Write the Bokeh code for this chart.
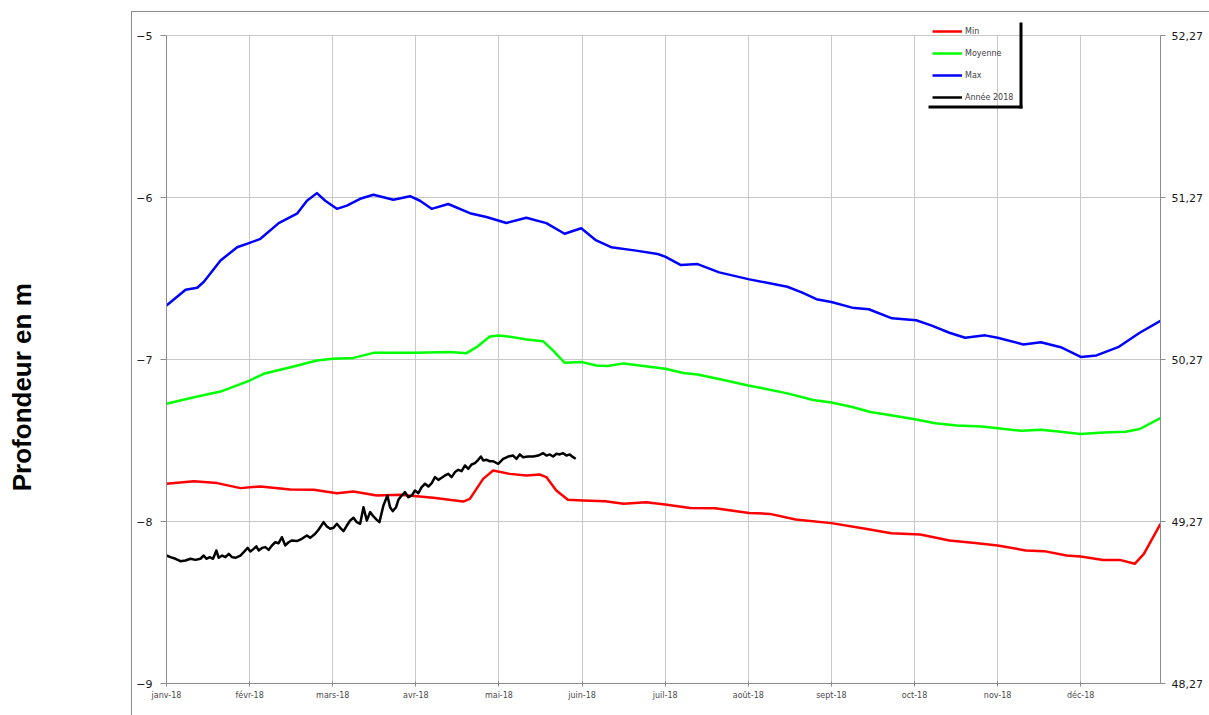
from bokeh.plotting import figure
from bokeh.models import (Range1d, FixedTicker, LinearAxis, Legend, LegendItem,
                          BoxAnnotation)
from bokeh.embed import file_html
from bokeh.resources import INLINE

# ---------------- data (x = position in months from 1 Jan 2018) ----------------
months = ["janv-18", "févr-18", "mars-18", "avr-18", "mai-18", "juin-18",
          "juil-18", "août-18", "sept-18", "oct-18", "nov-18", "déc-18"]
left_ticks = [-9, -8, -7, -6, -5]
right_labels = ["48,27", "49,27", "50,27", "51,27", "52,27"]

max_x = [0, 0.23, 0.37, 0.45, 0.65, 0.85, 1.0, 1.13, 1.35, 1.57, 1.69, 1.81, 1.91, 2.05,
         2.17, 2.33, 2.49, 2.73, 2.93, 3.05, 3.19, 3.39, 3.65, 3.85, 4.09, 4.33, 4.57,
         4.79, 4.99, 5.17, 5.35, 5.65, 5.91, 6.0, 6.19, 6.39, 6.65, 7.0, 7.47, 7.65,
         7.82, 8.0, 8.25, 8.45, 8.73, 9.02, 9.2, 9.42, 9.61, 9.85, 10.0, 10.31, 10.52,
         10.76, 11.0, 11.19, 11.45, 11.71, 11.96]
max_y = [-6.667, -6.57, -6.557, -6.52, -6.389, -6.307, -6.28, -6.255, -6.158, -6.10,
         -6.02, -5.973, -6.02, -6.07, -6.05, -6.008, -5.983, -6.014, -5.992, -6.02,
         -6.07, -6.04, -6.097, -6.12, -6.157, -6.125, -6.158, -6.224, -6.19, -6.265,
         -6.307, -6.328, -6.349, -6.365, -6.417, -6.411, -6.462, -6.504, -6.551, -6.587,
         -6.628, -6.645, -6.68, -6.69, -6.746, -6.758, -6.789, -6.835, -6.866, -6.851,
         -6.866, -6.907, -6.893, -6.924, -6.984, -6.975, -6.924, -6.835, -6.762]

moy_x = [0, 0.33, 0.65, 1.0, 1.17, 1.53, 1.81, 2.0, 2.25, 2.49, 3.0, 3.41, 3.61, 3.73,
         3.89, 4.0, 4.17, 4.33, 4.53, 4.65, 4.79, 5.0, 5.17, 5.31, 5.5, 5.74, 6.0, 6.22,
         6.39, 6.69, 7.0, 7.17, 7.47, 7.78, 8.0, 8.25, 8.47, 8.77, 9.02, 9.25, 9.51,
         9.81, 10.0, 10.29, 10.52, 10.76, 11.0, 11.28, 11.54, 11.71, 11.96]
moy_y = [-7.273, -7.233, -7.198, -7.13, -7.088, -7.043, -7.006, -6.996, -6.99, -6.959,
         -6.959, -6.953, -6.961, -6.924, -6.858, -6.852, -6.862, -6.877, -6.887, -6.944,
         -7.02, -7.016, -7.037, -7.04, -7.024, -7.04, -7.057, -7.083, -7.093, -7.125,
         -7.16, -7.177, -7.209, -7.25, -7.265, -7.293, -7.324, -7.349, -7.37, -7.393,
         -7.408, -7.414, -7.425, -7.44, -7.433, -7.446, -7.46, -7.45, -7.446, -7.429,
         -7.362]

min_x = [0, 0.33, 0.61, 0.89, 1.13, 1.49, 1.77, 2.05, 2.25, 2.53, 2.81, 3.21, 3.57, 3.65,
         3.81, 3.93, 4.13, 4.33, 4.49, 4.57, 4.69, 4.83, 5.01, 5.28, 5.5, 5.77, 6.0, 6.3,
         6.6, 7.01, 7.26, 7.57, 8.0, 8.41, 8.72, 9.07, 9.42, 9.73, 10.0, 10.34, 10.56,
         10.83, 11.0, 11.27, 11.47, 11.65, 11.76, 11.96]
min_y = [-7.767, -7.751, -7.763, -7.794, -7.784, -7.802, -7.804, -7.825, -7.815, -7.84,
         -7.835, -7.854, -7.877, -7.86, -7.737, -7.685, -7.706, -7.716, -7.71, -7.726,
         -7.809, -7.866, -7.87, -7.875, -7.891, -7.881, -7.895, -7.916, -7.918, -7.947,
         -7.953, -7.988, -8.01, -8.045, -8.072, -8.08, -8.117, -8.132, -8.148, -8.179,
         -8.183, -8.21, -8.216, -8.237, -8.237, -8.261, -8.2, -8.014]

y2018_x = [0, 0.048, 0.108, 0.168, 0.228, 0.288, 0.348, 0.408, 0.448, 0.480, 0.520, 0.560,
           0.600, 0.628, 0.669, 0.709, 0.749, 0.789, 0.829, 0.889, 0.929, 0.977, 1.009,
           1.049, 1.081, 1.109, 1.149, 1.189, 1.229, 1.269, 1.309, 1.349, 1.389, 1.429,
           1.469, 1.509, 1.569, 1.629, 1.689, 1.729, 1.789, 1.829, 1.890, 1.930, 1.970,
           2.010, 2.050, 2.090, 2.130, 2.170, 2.210, 2.250, 2.290, 2.330, 2.370, 2.410,
           2.450, 2.490, 2.530, 2.562, 2.610, 2.658, 2.690, 2.722, 2.762, 2.790, 2.830,
           2.870, 2.910, 2.950, 2.990, 3.030, 3.070, 3.111, 3.151, 3.191, 3.231, 3.271,
           3.311, 3.351, 3.391, 3.431, 3.471, 3.511, 3.551, 3.591, 3.631, 3.671, 3.711,
           3.751, 3.783, 3.811, 3.851, 3.891, 3.931, 3.991, 4.051, 4.111, 4.171, 4.211,
           4.251, 4.291, 4.351, 4.412, 4.472, 4.532, 4.572, 4.612, 4.652, 4.692, 4.732,
           4.772, 4.812, 4.852, 4.892, 4.924]
y2018_y = [-8.210, -8.220, -8.230, -8.245, -8.241, -8.230, -8.237, -8.230, -8.210, -8.230,
           -8.220, -8.230, -8.179, -8.224, -8.210, -8.220, -8.200, -8.220, -8.224, -8.210,
           -8.189, -8.163, -8.185, -8.169, -8.154, -8.179, -8.163, -8.158, -8.175, -8.148,
           -8.128, -8.134, -8.097, -8.148, -8.128, -8.117, -8.121, -8.107, -8.086, -8.101,
           -8.076, -8.051, -8.004, -8.031, -8.045, -8.039, -8.014, -8.039, -8.060, -8.025,
           -7.994, -7.977, -8.004, -8.014, -7.912, -7.994, -7.942, -7.969, -7.990, -8.004,
           -7.901, -7.840, -7.912, -7.936, -7.912, -7.866, -7.840, -7.819, -7.850, -7.840,
           -7.809, -7.825, -7.788, -7.767, -7.784, -7.763, -7.726, -7.743, -7.730, -7.716,
           -7.706, -7.726, -7.695, -7.681, -7.689, -7.654, -7.675, -7.648, -7.640, -7.619,
           -7.599, -7.623, -7.619, -7.628, -7.628, -7.644, -7.613, -7.599, -7.593, -7.613,
           -7.586, -7.603, -7.599, -7.599, -7.593, -7.578, -7.593, -7.586, -7.599, -7.582,
           -7.586, -7.578, -7.593, -7.586, -7.603, -7.613]

series_names = ["Min", "Moyenne", "Max", "Année 2018"]
y_title = "Profondeur en m"

# ---------------- figure ----------------
FONT = "DejaVu Sans"
grid_color = "#c8c8c8"
axis_color = "#8c8c8c"
frame_color = "#8c8c8c"

ylo, yhi = left_ticks[0], left_ticks[-1]
p = figure(width=1209, height=715, x_range=Range1d(0, 11.96),
           y_range=Range1d(ylo, yhi + 24 / 162.0),
           output_backend="svg", toolbar_location=None,
           min_border_left=166, min_border_right=49, min_border_top=11, min_border_bottom=32)
p.background_fill_alpha = 0
p.border_fill_alpha = 0
p.outline_line_color = None
# outer chart-area border (left + top) drawn behind the transparent canvas
p.styles = {"background": (f"linear-gradient({frame_color},{frame_color}) 131px 11px / 1px 704px no-repeat, "
                           f"linear-gradient({frame_color},{frame_color}) 131px 11px / 1078px 1px no-repeat, "
                           "#ffffff")}

xt = FixedTicker(ticks=list(range(len(months))))
p.xaxis.ticker = xt
p.xaxis.major_label_overrides = {i: m for i, m in enumerate(months)}
p.xaxis.axis_line_color = axis_color
p.xaxis.major_tick_line_color = axis_color
p.xaxis.major_tick_out = 3
p.xaxis.major_tick_in = 2
p.xaxis.minor_tick_line_color = None
p.xaxis.major_label_standoff = 4
p.xaxis.major_label_text_font = FONT
p.xaxis.major_label_text_font_size = "8px"
p.xaxis.major_label_text_color = "#4a4a4a"

p.xgrid.ticker = xt
p.xgrid.grid_line_color = grid_color
if "cross_bounds" in p.xgrid.properties():
    p.xgrid.cross_bounds = (ylo, yhi)
else:
    p.xgrid.grid_line_color = None
    p.segment(x0=xt.ticks, y0=[ylo] * len(xt.ticks), x1=xt.ticks, y1=[yhi] * len(xt.ticks),
              line_color=grid_color, line_width=1, level="underlay")

yt = FixedTicker(ticks=left_ticks)
p.yaxis.ticker = yt
p.yaxis.bounds = (ylo, yhi)
p.ygrid.ticker = yt
p.ygrid.grid_line_color = grid_color
p.yaxis.axis_line_color = axis_color
p.yaxis.major_tick_line_color = axis_color
p.yaxis.major_tick_out = 6
p.yaxis.major_tick_in = 0
p.yaxis.minor_tick_line_color = None
p.yaxis.major_label_standoff = 8
p.yaxis.major_label_text_font = FONT
p.yaxis.major_label_text_font_size = "11px"
p.yaxis.major_label_text_color = "#1a1a1a"

# outer left axis carrying only the title; trailing no-break spaces push the
# visible words down to where the reference centres them
title_axis = LinearAxis(ticker=FixedTicker(ticks=[]), bounds=(ylo, yhi),
                        axis_label=y_title + "\u00a0" * 11, axis_label_standoff=97,
                        axis_label_text_font="Liberation Sans",
                        axis_label_text_font_size="26px",
                        axis_label_text_font_style="bold",
                        axis_label_text_color="black",
                        axis_line_color=None, major_tick_out=0, major_tick_in=0,
                        major_label_standoff=0, minor_tick_line_color=None)
p.add_layout(title_axis, "left")

raxis = LinearAxis(ticker=FixedTicker(ticks=left_ticks), bounds=(ylo, yhi),
                   major_label_overrides={t: s for t, s in zip(left_ticks, right_labels)})
raxis.axis_line_color = axis_color
raxis.major_tick_line_color = axis_color
raxis.major_tick_out = 5
raxis.major_tick_in = 0
raxis.minor_tick_line_color = None
raxis.major_label_standoff = 6
raxis.major_label_text_font = FONT
raxis.major_label_text_font_size = "11px"
raxis.major_label_text_color = "#1a1a1a"
p.add_layout(raxis, "right")

r_min = p.line(min_x, min_y, line_color="#ff0000", line_width=2.5, line_join="round")
r_moy = p.line(moy_x, moy_y, line_color="#00ff00", line_width=2.5, line_join="round")
r_max = p.line(max_x, max_y, line_color="#0000ff", line_width=2.5, line_join="round")
r_yr = p.line(y2018_x, y2018_y, line_color="#000000", line_width=2.5, line_join="round")

legend = Legend(items=[LegendItem(label=n, renderers=[r]) for n, r in
                       zip(series_names, [r_min, r_moy, r_max, r_yr])],
                location=(766, 578))
legend.padding = 0
legend.margin = 0
legend.spacing = 6
legend.glyph_width = 30
legend.glyph_height = 16
legend.label_height = 16
legend.label_standoff = 3
legend.label_text_font = FONT
legend.label_text_font_size = "8px"
legend.label_text_color = "#404040"
legend.border_line_color = None
legend.background_fill_alpha = 0
p.add_layout(legend, "center")

# legend shadow (right and bottom)
for l, r, t, b in [(1019, 1022, 22, 108), (928, 1022, 105, 108)]:
    p.add_layout(BoxAnnotation(left=l, right=r, top=t, bottom=b,
                               left_units="canvas", right_units="canvas",
                               top_units="canvas", bottom_units="canvas",
                               fill_color="black", fill_alpha=1, line_color=None))

open("out.html", "w").write(file_html(p, INLINE))
